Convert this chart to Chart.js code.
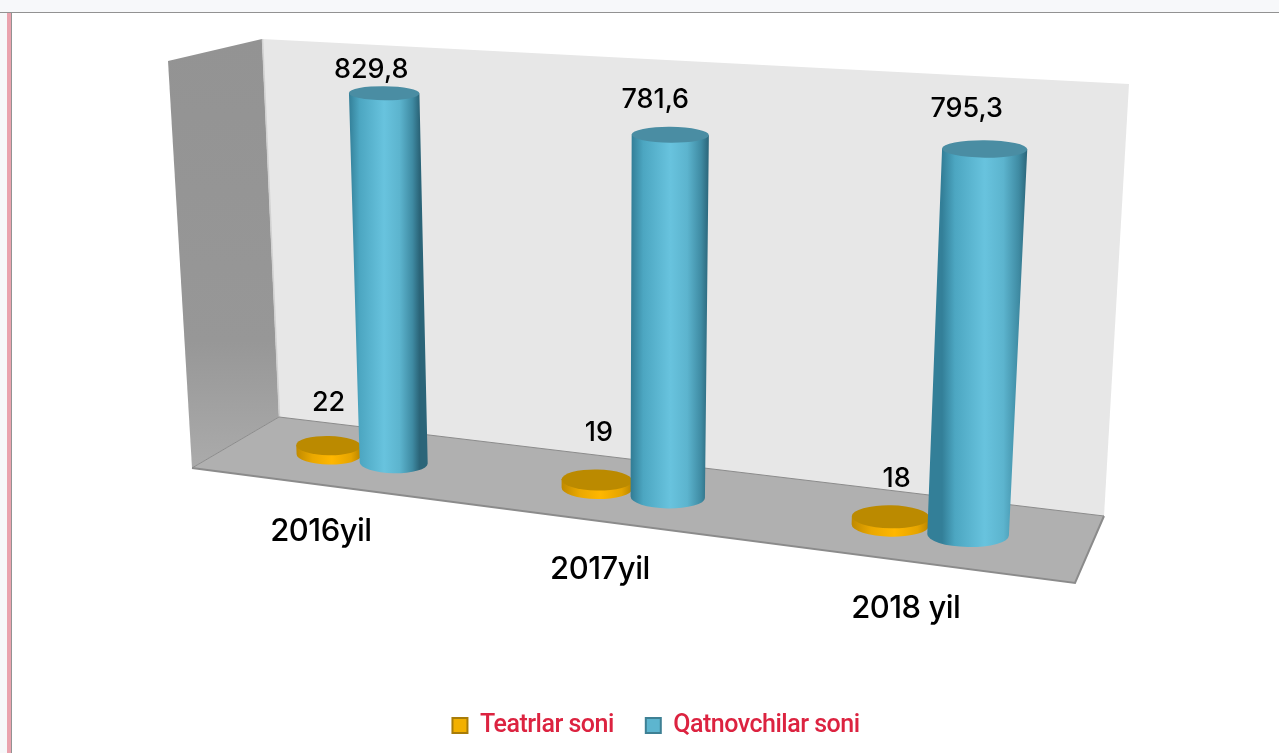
<!DOCTYPE html>
<html>
<head>
<meta charset="utf-8">
<title>Teatrlar</title>
<script src="https://cdn.jsdelivr.net/npm/chart.js@4"></script>
<style>
    html, body { margin: 0; padding: 0; background: #fff; overflow: hidden; }
    #topStrip { position: absolute; left: 0; top: 0; width: 1279px; height: 12px; background: #f7f8fa; border-bottom: 1px solid #929292; }
    #leftStrip { position: absolute; left: 0; top: 13px; width: 7px; height: 740px; background: #f7f8fa; border-right: 4px solid #eaa3ae; }
    #leftLine { position: absolute; left: 11px; top: 13px; width: 1px; height: 740px; background: #929292; }
    canvas { position: absolute; left: 0; top: 0; }
</style>
</head>
<body>
<div id="topStrip"></div><div id="leftStrip"></div><div id="leftLine"></div>
<canvas id="chart" width="1279" height="753"></canvas>
<script>
const categories = ['2016yil', '2017yil', '2018 yil'];
const teatrlar = [22, 19, 18];
const qatnovchilar = [829.8, 781.6, 795.3];
const teatrlarText = ['22', '19', '18'];
const qatnovchilarText = ['829,8', '781,6', '795,3'];

// 3D frame of the picture, in canvas pixels
const leftWall = [[168, 61], [262, 39], [279, 417], [192, 468]];
const backWall = [[262, 39], [1129, 84], [1104, 516], [279, 417]];
const floor = [[279, 417], [1104, 516], [1075, 583], [192, 468]];
// where the plot rectangle lands: bottom left, bottom right, top right, top left
const plotQuad = [[234.1, 443], [1088, 549.8], [1111.6, 139.3], [218, 82.6]];

// hand placed labels, offsets from the top of each bar or the foot of each group
const teatrlarOffset = [[0, -43], [2, -47], [6, -38]];
const qatnovchilarOffset = [[-13, -23], [-15, -35], [-18, -40]];
const categoryOffset = [[-40, 73], [-32, 77], [-23, 79]];

// unit square -> quad
function makeHomography(q) {
    const [p0, p1, p2, p3] = q;
    const dx1 = p1[0] - p2[0], dx2 = p3[0] - p2[0], sx = p0[0] - p1[0] + p2[0] - p3[0];
    const dy1 = p1[1] - p2[1], dy2 = p3[1] - p2[1], sy = p0[1] - p1[1] + p2[1] - p3[1];
    const det = dx1 * dy2 - dx2 * dy1;
    const g = (sx * dy2 - dx2 * sy) / det;
    const h = (dx1 * sy - sx * dy1) / det;
    const a = p1[0] - p0[0] + g * p1[0], b = p3[0] - p0[0] + h * p3[0], c = p0[0];
    const d = p1[1] - p0[1] + g * p1[1], e = p3[1] - p0[1] + h * p3[1], f = p0[1];
    return (u, v) => {
        const w = g * u + h * v + 1;
        return [(a * u + b * v + c) / w, (d * u + e * v + f) / w];
    };
}

function polygon(ctx, pts, fill, stroke, lineWidth) {
    ctx.beginPath();
    pts.forEach((p, i) => i ? ctx.lineTo(p[0], p[1]) : ctx.moveTo(p[0], p[1]));
    ctx.closePath();
    ctx.fillStyle = fill;
    ctx.fill();
    if (stroke) {
        ctx.strokeStyle = stroke;
        ctx.lineWidth = lineWidth;
        ctx.stroke();
    }
}

function drawFrame(ctx) {
    polygon(ctx, backWall, '#e7e7e7');
    const g = ctx.createLinearGradient(0, 40, 0, 470);
    g.addColorStop(0, '#939393');
    g.addColorStop(0.7, '#979797');
    g.addColorStop(1, '#ababab');
    polygon(ctx, leftWall, g);
    ctx.strokeStyle = '#d2d2d2';
    ctx.lineWidth = 1.5;
    ctx.beginPath();
    ctx.moveTo(262.5, 39);
    ctx.lineTo(279.5, 417);
    ctx.stroke();
    polygon(ctx, floor, '#b0b0b0');
    ctx.strokeStyle = '#8b8b8b';
    ctx.lineWidth = 2;
    ctx.beginPath();
    ctx.moveTo(192, 468);
    ctx.lineTo(1075, 583);
    ctx.lineTo(1104, 516);
    ctx.stroke();
    ctx.lineWidth = 1;
    ctx.beginPath();
    ctx.moveTo(192, 468);
    ctx.lineTo(279, 417);
    ctx.lineTo(1104, 516);
    ctx.stroke();
}

// bar element -> cylinder through the perspective of the plot plane
function drawCylinder(ctx, bar, area, project, look) {
    const u = x => (x - area.left) / (area.right - area.left);
    const v = y => (area.bottom - y) / (area.bottom - area.top);
    const hw = bar.width / 2 * look.widen;

    const ellipseAt = y => {
        const l = project(u(bar.x - hw), v(y));
        const r = project(u(bar.x + hw), v(y));
        const rx = Math.hypot(r[0] - l[0], r[1] - l[1]) / 2;
        const rot = Math.atan2(r[1] - l[1], r[0] - l[0]) * 0.15;
        const cx = (l[0] + r[0]) / 2, cy = (l[1] + r[1]) / 2;
        return {
            cx: cx, cy: cy, rx: rx, rot: rot,
            ry: rx * (0.3 - 0.1 * v(y)),
            left: [cx - rx * Math.cos(rot), cy - rx * Math.sin(rot)],
            right: [cx + rx * Math.cos(rot), cy + rx * Math.sin(rot)]
        };
    };
    const b = ellipseAt(bar.base);
    const t = ellipseAt(bar.y);

    const g = ctx.createLinearGradient(t.left[0], 0, t.right[0], 0);
    look.side.forEach(s => g.addColorStop(s[0], s[1]));
    ctx.beginPath();
    ctx.moveTo(t.left[0], t.left[1]);
    ctx.lineTo(b.left[0], b.left[1]);
    ctx.ellipse(b.cx, b.cy, b.rx, b.ry, b.rot, Math.PI, 0, true);
    ctx.lineTo(t.right[0], t.right[1]);
    ctx.closePath();
    ctx.fillStyle = g;
    ctx.fill();

    ctx.beginPath();
    ctx.ellipse(t.cx, t.cy, t.rx, t.ry, t.rot, 0, Math.PI * 2);
    ctx.fillStyle = look.top;
    ctx.fill();
    return t;
}

const orangeLook = {
    widen: 1,
    top: '#bb8a00',
    side: [[0, '#c08a00'], [0.25, '#eaa800'], [0.55, '#ffb700'], [0.85, '#e5a400'], [1, '#b98500']]
};
const blueLook = {
    widen: 1.03,
    top: '#4a8da3',
    side: [[0, '#337f98'], [0.15, '#4ca6c1'], [0.5, '#68c3de'], [0.72, '#5cb4ce'], [0.9, '#3f8ba3'], [1, '#2b6579']]
};

function drawLabel(ctx, text, x, y, font, spacing) {
    ctx.font = font;
    ctx.letterSpacing = spacing;
    ctx.fillStyle = '#000';
    ctx.textAlign = 'center';
    ctx.textBaseline = 'middle';
    ctx.fillText(text, x, y);
}

const scene3d = {
    id: 'scene3d',
    // tighter legend text, the canvas state gets reset on resize so set it here
    beforeLayout(chart) {
        chart.ctx.letterSpacing = '-0.5px';
    },
    beforeDatasetsDraw(chart) {
        const ctx = chart.ctx;
        const area = chart.chartArea;
        const project = makeHomography(plotQuad);
        const orange = chart.getDatasetMeta(0).data;
        const blue = chart.getDatasetMeta(1).data;
        ctx.save();
        drawFrame(ctx);
        categories.forEach((name, i) => {
            const t0 = drawCylinder(ctx, orange[i], area, project, orangeLook);
            const t1 = drawCylinder(ctx, blue[i], area, project, blueLook);
            drawLabel(ctx, teatrlarText[i], t0.cx + teatrlarOffset[i][0], t0.cy + teatrlarOffset[i][1], '500 27px Inter', '0px');
            drawLabel(ctx, qatnovchilarText[i], t1.cx + qatnovchilarOffset[i][0], t1.cy + qatnovchilarOffset[i][1], '500 27px Inter', '0px');
            const mid = (orange[i].x + blue[i].x) / 2;
            const foot = project((mid - area.left) / (area.right - area.left), 0);
            drawLabel(ctx, name, foot[0] + categoryOffset[i][0], foot[1] + categoryOffset[i][1], '500 31px Inter', '-0.5px');
        });
        ctx.restore();
        return false;
    }
};

new Chart(document.getElementById('chart'), {
    type: 'bar',
    data: {
        labels: categories,
        datasets: [
            { label: 'Teatrlar soni', data: teatrlar, backgroundColor: '#f2b000', borderColor: '#a87c08', borderWidth: 2 },
            { label: 'Qatnovchilar soni', data: qatnovchilar, backgroundColor: '#5db5cf', borderColor: '#3e8094', borderWidth: 2 }
        ]
    },
    options: {
        responsive: false,
        animation: false,
        layout: { padding: { left: 33, bottom: 5 } },
        categoryPercentage: 0.5,
        barPercentage: 1,
        scales: {
            x: { display: false },
            y: { display: false, min: 0, max: 830 }
        },
        plugins: {
            tooltip: { enabled: false },
            legend: {
                position: 'bottom',
                labels: {
                    color: '#dc2340',
                    boxWidth: 15,
                    boxHeight: 15,
                    padding: 32,
                    font: { family: 'Roboto', size: 25, weight: '500' }
                }
            }
        }
    },
    plugins: [scene3d]
});
</script>
</body>
</html>
